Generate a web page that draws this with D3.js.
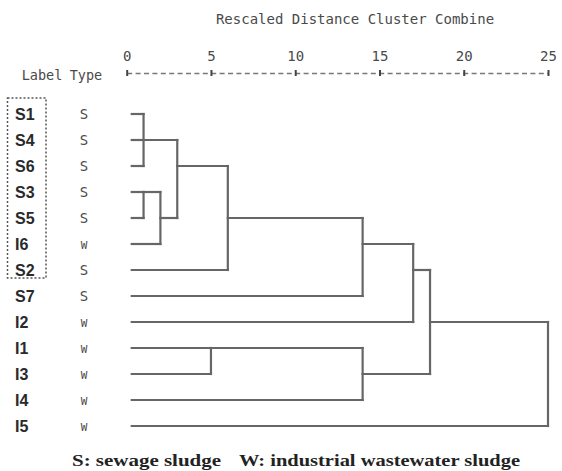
<!DOCTYPE html>
<html>
<head>
<meta charset="utf-8">
<script src="https://cdn.jsdelivr.net/npm/d3@7.9.0/dist/d3.min.js"></script>
<style>
  body { margin: 0; background: #fff; }
  svg { display: block; }
  .mono { font-family: "DejaVu Sans Mono", monospace; fill: #4a4a4a; }
</style>
</head>
<body>
<div id="chart"></div>
<script>
// leaves, top to bottom, with their sludge type
const labels = ["S1", "S4", "S6", "S3", "S5", "I6", "S2", "S7", "I2", "I1", "I3", "I4", "I5"];
const types = ["S", "S", "S", "S", "S", "W", "S", "S", "W", "W", "W", "W", "W"];

// merge steps (SPSS rescaled distance)
const mergeIds = ["a", "b", "c", "d", "e", "f", "g", "h", "i", "j", "k"];
const mergeMembers = [
  ["S1", "S4", "S6"],
  ["S3", "S5"],
  ["b", "I6"],
  ["a", "c"],
  ["d", "S2"],
  ["e", "S7"],
  ["f", "I2"],
  ["I1", "I3"],
  ["h", "I4"],
  ["g", "i"],
  ["j", "I5"]
];
const mergeDistances = [1, 1, 2, 3, 6, 14, 17, 5, 14, 18, 25];

const axisTicks = [0, 5, 10, 15, 20, 25];
const leafOffset = 0.3; // leaves start just right of 0
const title = "Rescaled Distance Cluster Combine";
const legendS = "S: sewage sludge";
const legendW = "W: industrial wastewater sludge";

const width = 562;
const height = 471;

const svg = d3.select("#chart")
  .append("svg")
  .attr("width", width)
  .attr("height", height);

const x = d3.scaleLinear().domain([0, 25]).range([126.7, 548]);
const y = d3.scalePoint().domain(labels).range([114, 426]);

// title
svg.append("text")
  .attr("class", "mono")
  .attr("x", 355)
  .attr("y", 24)
  .attr("text-anchor", "middle")
  .style("font-size", "14px")
  .text(title);

// column headers
svg.append("text").attr("class", "mono")
  .attr("x", 42).attr("y", 80).attr("text-anchor", "middle")
  .style("font-size", "13.5px").text("Label");
svg.append("text").attr("class", "mono")
  .attr("x", 86).attr("y", 80).attr("text-anchor", "middle")
  .style("font-size", "13.5px").text("Type");

// axis
const axisY = 73;
const axisG = svg.append("g")
  .attr("transform", `translate(0, ${axisY})`)
  .call(d3.axisTop(x).tickValues(axisTicks).tickSizeOuter(0).tickSize(0).tickPadding(12));

axisG.select(".domain")
  .attr("stroke", "#777")
  .attr("stroke-width", 1.5)
  .attr("stroke-dasharray", "5,3.4");

axisG.selectAll(".tick line")
  .attr("y1", -3).attr("y2", 3)
  .attr("stroke", "#444")
  .attr("stroke-width", 2);

axisG.selectAll(".tick text")
  .attr("class", "mono")
  .style("font-size", "14px")
  .attr("font-family", null);

// leaf labels + types
const rows = svg.append("g");
rows.selectAll("text.lab")
  .data(labels)
  .join("text")
  .attr("class", "lab")
  .attr("x", 15)
  .attr("y", d => y(d) + 6)
  .style("font-family", "'Liberation Sans', Arial, sans-serif")
  .style("font-weight", "bold")
  .style("font-size", "16px")
  .attr("fill", "#2a2a2a")
  .text(d => d);

rows.selectAll("text.typ")
  .data(labels)
  .join("text")
  .attr("class", "typ mono")
  .attr("x", 84)
  .attr("y", (d, i) => y(d) + 5)
  .attr("text-anchor", "middle")
  .style("font-size", (d, i) => types[i] === "W" ? "11px" : "14px")
  .text((d, i) => types[i]);

// dotted box round S1..S2
svg.append("rect")
  .attr("x", 7.5)
  .attr("y", y("S1") - 16)
  .attr("width", 38.5)
  .attr("height", y("S2") - y("S1") + 24)
  .attr("fill", "none")
  .attr("stroke", "#555")
  .attr("stroke-width", 1.5)
  .attr("stroke-dasharray", "2,2");

// build cluster nodes
const nodes = {};
labels.forEach((l, i) => { nodes[l] = { row: i, dist: leafOffset }; });

const segs = [];
mergeIds.forEach((id, m) => {
  const kids = mergeMembers[m].map(k => nodes[k]);
  const d = mergeDistances[m];
  kids.forEach(k => segs.push({ x1: k.dist, x2: d, r1: k.row, r2: k.row }));
  const top = d3.min(kids, k => k.row);
  const bot = d3.max(kids, k => k.row);
  segs.push({ x1: d, x2: d, r1: top, r2: bot });
  nodes[id] = { row: Math.floor((top + bot) / 2), dist: d };
});

svg.append("g")
  .selectAll("line")
  .data(segs)
  .join("line")
  .attr("x1", d => x(d.x1))
  .attr("x2", d => x(d.x2))
  .attr("y1", d => y(labels[d.r1]))
  .attr("y2", d => y(labels[d.r2]))
  .attr("stroke", "#666")
  .attr("stroke-width", 2.2)
  .attr("stroke-linecap", "square");

// legend
const legendFont = "'Liberation Serif', 'Times New Roman', serif";
svg.append("text")
  .attr("x", 72).attr("y", 466)
  .style("font-family", legendFont)
  .style("font-weight", "bold")
  .style("font-size", "17.5px")
  .attr("fill", "#222")
  .attr("textLength", 149)
  .attr("lengthAdjust", "spacingAndGlyphs")
  .text(legendS);

svg.append("text")
  .attr("x", 239).attr("y", 466)
  .style("font-family", legendFont)
  .style("font-weight", "bold")
  .style("font-size", "17.5px")
  .attr("fill", "#222")
  .attr("textLength", 281)
  .attr("lengthAdjust", "spacingAndGlyphs")
  .text(legendW);
</script>
</body>
</html>
